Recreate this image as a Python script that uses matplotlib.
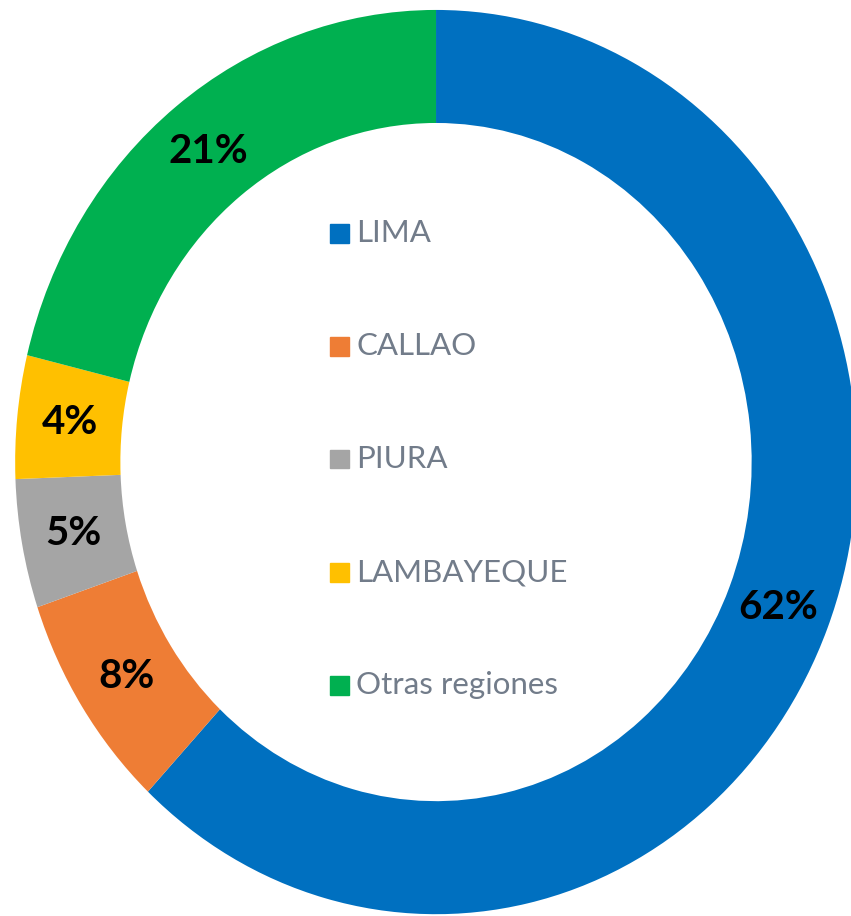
import matplotlib
matplotlib.use("Agg")
import matplotlib.pyplot as plt
from matplotlib.patches import Rectangle

regiones = ["LIMA", "CALLAO", "PIURA", "LAMBAYEQUE", "Otras regiones"]
porcentajes = [62.0, 7.8, 4.6, 4.4, 21.2]
colores = ["#0070C0", "#EE7D35", "#A5A5A5", "#FFC000", "#00B050"]

plt.rcParams["font.family"] = ["Lato", "DejaVu Sans"]

fig = plt.figure(figsize=(8.51, 9.16), dpi=100)
ax = fig.add_axes([0, 0, 1, 1])

wedges, texts, autotexts = ax.pie(
    porcentajes,
    colors=colores,
    startangle=90,
    counterclock=False,
    radius=1.0,
    wedgeprops=dict(width=0.25, linewidth=0),
    autopct="%.0f%%",
    pctdistance=0.875,
    textprops=dict(fontsize=29, fontweight="bold", color="black"),
)

# the original is slightly stretched vertically and cropped at right/bottom
ax.set_aspect("auto")
ax.set_xlim(-1.036, 0.986)
ax.set_ylim(-1.004, 1.022)
ax.axis("off")

# legend inside the hole
y0 = 1 - 233 / 916
step = 113 / 916
sq_w = 19 / 851
sq_h = 19 / 916
x_sq = 330 / 851
for i, (lab, col) in enumerate(zip(regiones, colores)):
    y = y0 - i * step
    ax.add_patch(Rectangle((x_sq, y - sq_h / 2), sq_w, sq_h, color=col,
                           transform=ax.transAxes, clip_on=False))
    ax.text(356 / 851, y, lab, transform=ax.transAxes, fontsize=22.5,
            color="#727c8a", va="center", ha="left")

fig.savefig("out.png", dpi=100)
